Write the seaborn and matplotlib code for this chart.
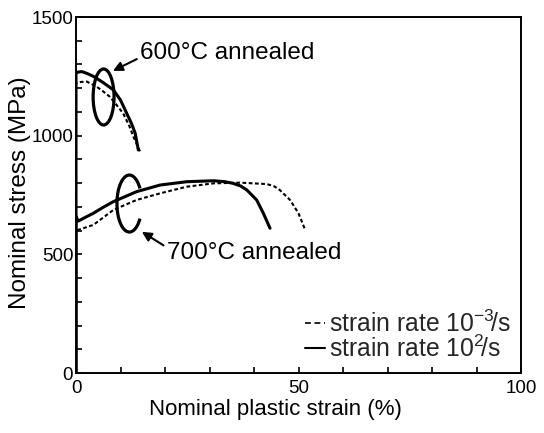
import numpy as np
import pandas as pd
import matplotlib
matplotlib.use("Agg")
import matplotlib.pyplot as plt
import seaborn as sns
from matplotlib.patches import Arc, Ellipse
from matplotlib.ticker import MultipleLocator, FixedLocator
from matplotlib.lines import Line2D

# ---- data ----
strain_600_fast = [0, 0, 0.5, 1.3, 2.5, 3.9, 6.0, 8.4, 10.0, 11.4, 12.5, 13.3, 14.0]
stress_600_fast = [0, 1263, 1268, 1270, 1262, 1250, 1225, 1193, 1150, 1094, 1050, 1010, 940]
strain_600_slow = [0, 0, 1.0, 2.4, 4.6, 6.0, 7.6, 9.0, 10.6, 12.0, 12.9, 14.4]
stress_600_slow = [0, 1221, 1226, 1228, 1207, 1188, 1164, 1132, 1094, 1040, 996, 933]

strain_700_fast = [0, 0, 0.5, 2.0, 3.9, 6.0, 8.4, 13.6, 18.9, 24.9, 30.9, 33.5, 35.3, 37.0, 38.4, 40.6, 42.1, 43.6]
stress_700_fast = [0, 660, 640, 655, 673, 697, 722, 764, 792, 806, 810, 806, 799, 788, 771, 729, 673, 610]
strain_700_slow = [0, 0, 0.5, 3.9, 8.4, 13.6, 18.9, 24.9, 30.9, 36.9, 42.9, 44.5, 45.8, 48.1, 50.0, 51.5]
stress_700_slow = [0, 600, 603, 624, 687, 729, 757, 785, 799, 802, 796, 787, 771, 729, 673, 603]

x_ticklabels = ["0", "50", "100"]
y_ticklabels = ["0", "500", "1000", "1500"]
legend_labels = [r"strain rate 10$^{-3}\!$/s", r"strain rate 10$^{2}\!$/s"]

sns.set_theme(style="white")
plt.rcParams['font.family'] = ['Liberation Sans', 'DejaVu Sans']
plt.rcParams['mathtext.fontset'] = 'custom'
plt.rcParams['mathtext.rm'] = 'Liberation Sans'
plt.rcParams['mathtext.it'] = 'Liberation Sans'

fig = plt.figure(figsize=(5.44, 4.33), dpi=100)
ax = fig.add_axes([76/544, 1-373/433, (521-76)/544, (373-17)/433])

curves = [
    (strain_600_slow, stress_600_slow, "slow"),
    (strain_600_fast, stress_600_fast, "fast"),
    (strain_700_slow, stress_700_slow, "slow"),
    (strain_700_fast, stress_700_fast, "fast"),
]
for xs, ys, rate in curves:
    df = pd.DataFrame({"strain": xs, "stress": ys})
    if rate == "fast":
        sns.lineplot(data=df, x="strain", y="stress", sort=False, ax=ax,
                     color="black", lw=2.2, estimator=None)
    else:
        sns.lineplot(data=df, x="strain", y="stress", sort=False, ax=ax,
                     color="black", lw=1.5, estimator=None,
                     linestyle=(0, (1.8, 1.2)))

ax.set_xlim(0, 100)
ax.set_ylim(0, 1500)
ax.xaxis.set_major_locator(FixedLocator([0, 50, 100]))
ax.xaxis.set_minor_locator(MultipleLocator(10))
ax.yaxis.set_major_locator(FixedLocator([0, 500, 1000, 1500]))
ax.yaxis.set_minor_locator(MultipleLocator(100))
ax.set_xticklabels(x_ticklabels)
ax.set_yticklabels(y_ticklabels)
ax.tick_params(axis='both', which='both', direction='in', length=4, width=1.2,
               color='black', labelsize=13.5, labelcolor='black',
               bottom=True, left=True, top=False, right=False)
ax.tick_params(axis='x', which='major', pad=5)
ax.tick_params(axis='y', which='major', pad=2)
for s in ax.spines.values():
    s.set_color('black')
    s.set_linewidth(1.4)
ax.set_xlabel("Nominal plastic strain (%)", fontsize=16, color='black')
ax.xaxis.set_label_coords(0.449, -0.072)
ax.set_ylabel("Nominal stress (MPa)", fontsize=17.5, color='black')
ax.yaxis.set_label_coords(-0.102, 0.506)

# annotations: loop marks (open "C" for 700 degC)
ax.add_patch(Ellipse((6.2, 1163), 4.7, 236, angle=0, fill=False, lw=2.3, color='black'))
c_w, c_h, t_open = 5.6, 240, np.deg2rad(32)
geo = np.rad2deg(np.arctan2(c_h / 2 * np.sin(t_open), c_w / 2 * np.cos(t_open)))
ax.add_patch(Arc((12.0, 714), c_w, c_h, theta1=geo, theta2=360 - geo, lw=2.3, color='black'))
ax.annotate("600°C annealed", xy=(8.3, 1273), xytext=(14.4, 1348),
            fontsize=17.5, va='center', ha='left', color='black',
            arrowprops=dict(arrowstyle='-|>', color='black', lw=1.5, mutation_scale=14,
                            shrinkA=0, shrinkB=0, relpos=(0, 0.3)))
ax.annotate("700°C annealed", xy=(14.8, 595), xytext=(20.4, 506),
            fontsize=17.5, va='center', ha='left', color='black',
            arrowprops=dict(arrowstyle='-|>', color='black', lw=1.5, mutation_scale=14,
                            shrinkA=0, shrinkB=0, relpos=(0, 0.75)))

# legend
handles = [Line2D([], [], color='black', lw=1.2, linestyle=(0, (3.5, 2.2))),
           Line2D([], [], color='black', lw=1.5)]
ax.legend(handles, legend_labels,
          loc='lower right', bbox_to_anchor=((511-76)/445, (373-362)/356), frameon=False,
          fontsize=17.8, handlelength=0.8, handletextpad=0.15, labelspacing=-0.05,
          borderaxespad=0.0, borderpad=0.0)

fig.savefig("out.png", dpi=100)
